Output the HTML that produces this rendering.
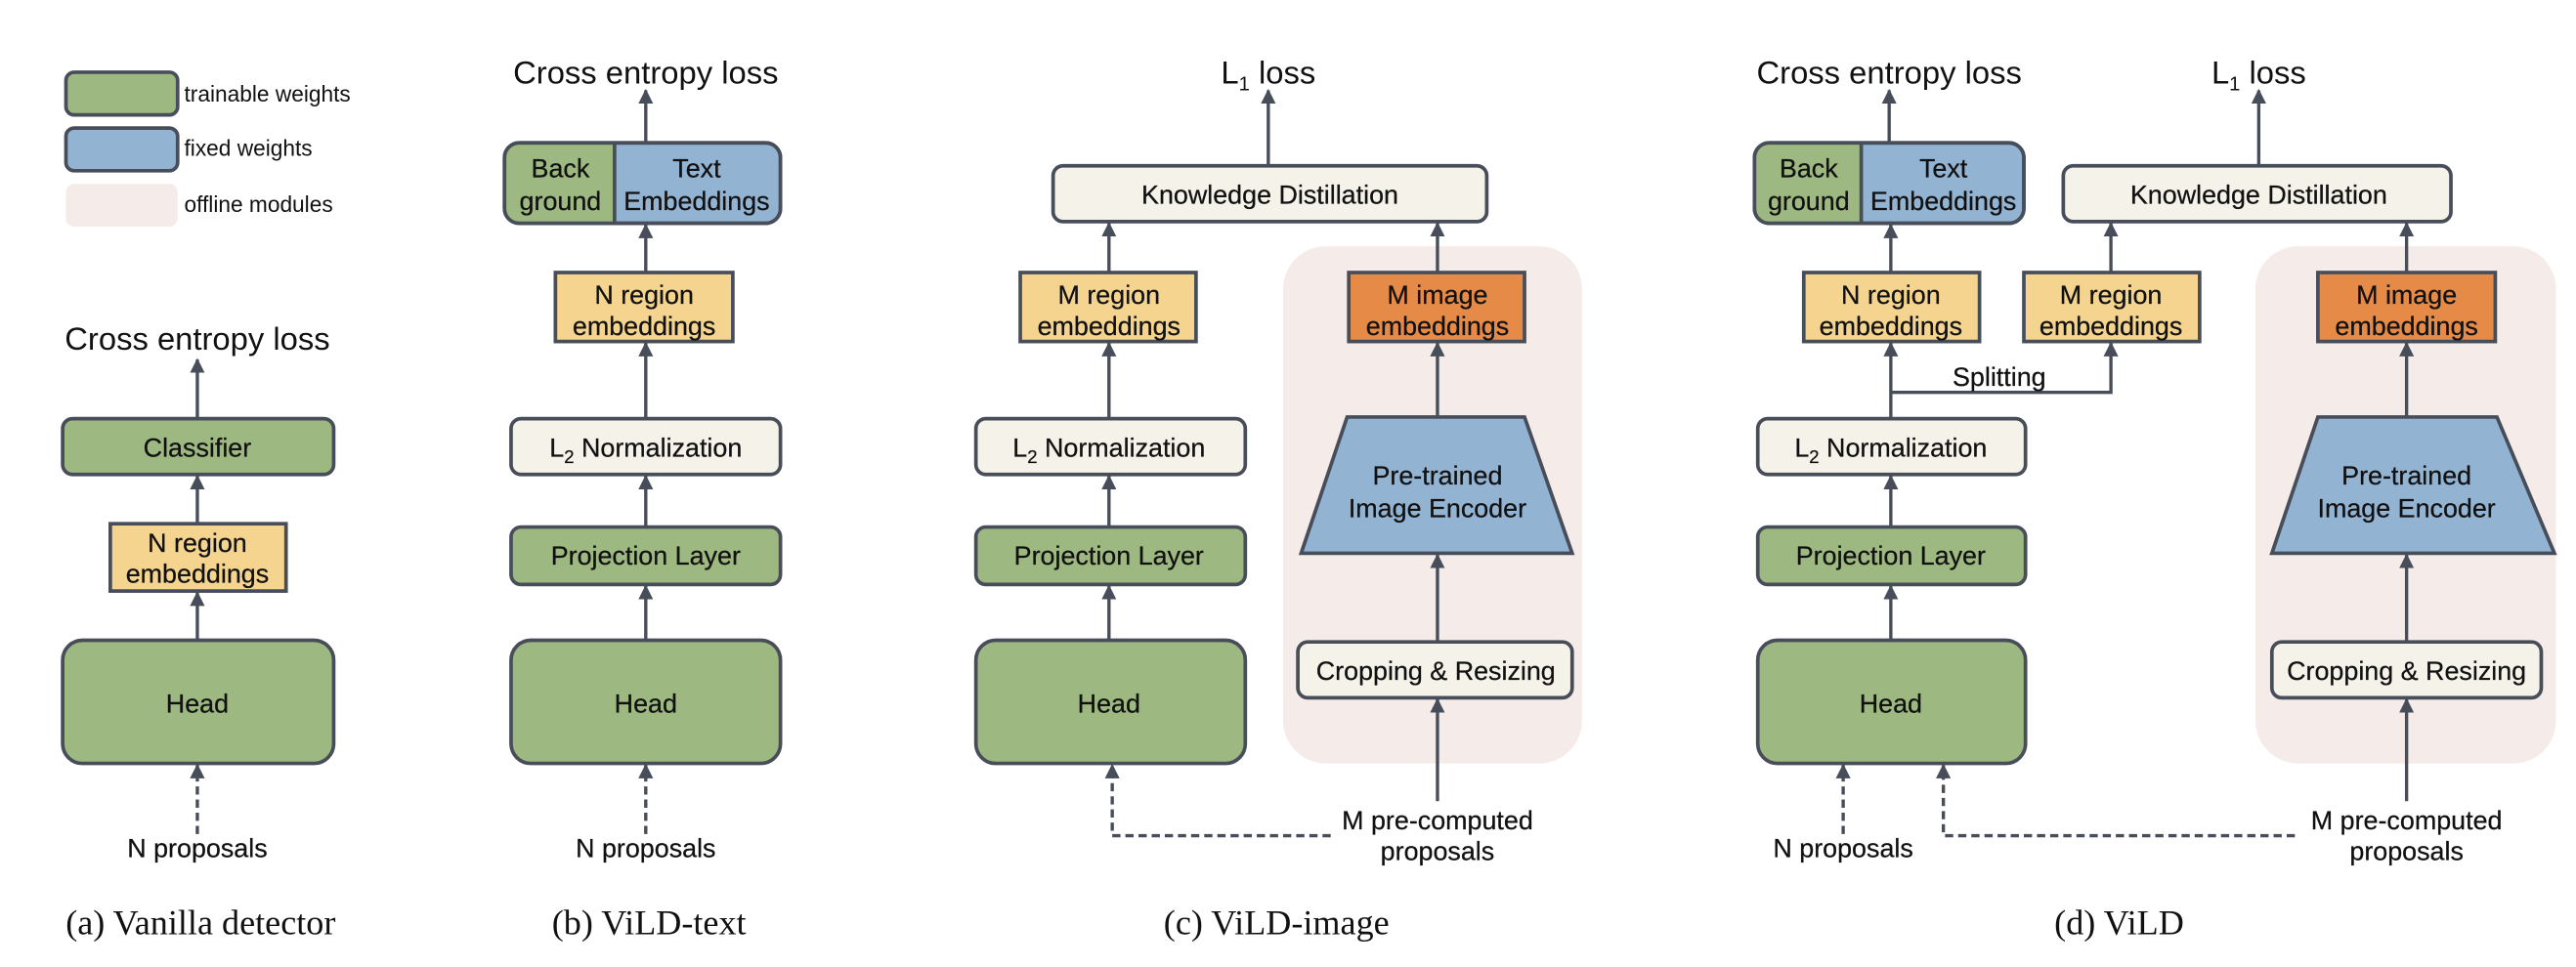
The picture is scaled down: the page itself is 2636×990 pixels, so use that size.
<!DOCTYPE html>
<html><head><meta charset="utf-8"><style>
html,body{margin:0;padding:0;background:#fff;}
svg{display:block;}
text{font-family:"Liberation Sans",Arial,sans-serif;fill:#111;}
.cap{font-family:"Liberation Serif",serif;font-size:21.5px;}
.bx{font-size:16px;stroke:#111;stroke-width:0.15px;}
.big{font-size:19.5px;}
</style></head><body>
<svg width="2636" height="990" viewBox="0 0 1568 589" xmlns="http://www.w3.org/2000/svg">
<defs>
<marker id="ah" viewBox="0 0 10 10" refX="9" refY="5" markerWidth="9" markerHeight="9" markerUnits="userSpaceOnUse" orient="auto">
<path d="M0,0 L10,5 L0,10 z" fill="#474e5a"/></marker>
</defs>
<g stroke="#474e5a" stroke-width="2.2">
<rect x="40" y="44" width="68" height="26" rx="5" fill="#9db880"/>
<rect x="40" y="78" width="68" height="26" rx="5" fill="#93b3d3"/>
<rect x="40" y="112" width="68" height="26" rx="5" fill="#f5ebe8" stroke="none"/>
<rect x="781" y="150" width="182" height="315" rx="26" fill="#f5ebe8" stroke="none"/>
<rect x="1373" y="150" width="183" height="315" rx="26" fill="#f5ebe8" stroke="none"/>
<rect x="38" y="255" width="165" height="34" rx="6" fill="#9db880"/>
<rect x="67" y="319" width="107" height="41" fill="#f4d48e"/>
<rect x="38" y="390" width="165" height="75" rx="12" fill="#9db880"/>
<rect x="307" y="87" width="168" height="49" rx="9" fill="#93b3d3"/>
<path d="M374,88 H316 A8,8 0 0 0 308,96 V127 A8,8 0 0 0 316,135 H374 Z" fill="#9db880" stroke="none"/>
<rect x="307" y="87" width="168" height="49" rx="9" fill="none"/>
<line x1="374" y1="87" x2="374" y2="136"/>
<rect x="338" y="166" width="108" height="42" fill="#f4d48e"/>
<rect x="311" y="255" width="164" height="34" rx="6" fill="#f5f2ea"/>
<rect x="311" y="321" width="164" height="35" rx="6" fill="#9db880"/>
<rect x="311" y="390" width="164" height="75" rx="12" fill="#9db880"/>
<rect x="641" y="101" width="264" height="34" rx="6" fill="#f5f2ea"/>
<rect x="621" y="166" width="107" height="42" fill="#f4d48e"/>
<rect x="594" y="255" width="164" height="34" rx="6" fill="#f5f2ea"/>
<rect x="594" y="321" width="164" height="35" rx="6" fill="#9db880"/>
<rect x="594" y="390" width="164" height="75" rx="12" fill="#9db880"/>
<rect x="821" y="166" width="107" height="42" fill="#e68b47"/>
<polygon points="820,254 928,254 957,337 792,337" fill="#93b3d3"/>
<rect x="790" y="391" width="167" height="34" rx="6" fill="#f5f2ea"/>
<rect x="1068" y="87" width="164" height="49" rx="9" fill="#93b3d3"/>
<path d="M1133,88 H1077 A8,8 0 0 0 1069,96 V127 A8,8 0 0 0 1077,135 H1133 Z" fill="#9db880" stroke="none"/>
<rect x="1068" y="87" width="164" height="49" rx="9" fill="none"/>
<line x1="1133" y1="87" x2="1133" y2="136"/>
<rect x="1256" y="101" width="236" height="34" rx="6" fill="#f5f2ea"/>
<rect x="1098" y="166" width="107" height="42" fill="#f4d48e"/>
<rect x="1232" y="166" width="107" height="42" fill="#f4d48e"/>
<rect x="1070" y="255" width="163" height="34" rx="6" fill="#f5f2ea"/>
<rect x="1070" y="321" width="163" height="35" rx="6" fill="#9db880"/>
<rect x="1070" y="390" width="163" height="75" rx="12" fill="#9db880"/>
<rect x="1411" y="166" width="108" height="42" fill="#e68b47"/>
<polygon points="1411,254 1520,254 1555,337 1383,337" fill="#93b3d3"/>
<rect x="1383" y="391" width="164" height="34" rx="6" fill="#f5f2ea"/>
</g>
<g stroke="#474e5a" stroke-width="2" fill="none" marker-end="url(#ah)">
<line x1="120" y1="255" x2="120" y2="219"/>
<line x1="120" y1="319" x2="120" y2="290"/>
<line x1="120" y1="390" x2="120" y2="361"/>
<line x1="393" y1="87" x2="393" y2="55"/>
<line x1="393" y1="166" x2="393" y2="137"/>
<line x1="393" y1="255" x2="393" y2="209"/>
<line x1="393" y1="321" x2="393" y2="290"/>
<line x1="393" y1="390" x2="393" y2="357"/>
<line x1="772" y1="101" x2="772" y2="55"/>
<line x1="675" y1="166" x2="675" y2="136"/>
<line x1="875" y1="166" x2="875" y2="136"/>
<line x1="675" y1="255" x2="675" y2="209"/>
<line x1="675" y1="321" x2="675" y2="290"/>
<line x1="675" y1="390" x2="675" y2="357"/>
<line x1="875" y1="254" x2="875" y2="209"/>
<line x1="875" y1="391" x2="875" y2="338"/>
<line x1="875" y1="488" x2="875" y2="426"/>
<line x1="1150" y1="87" x2="1150" y2="55"/>
<line x1="1375" y1="101" x2="1375" y2="55"/>
<line x1="1151" y1="166" x2="1151" y2="137"/>
<line x1="1285" y1="166" x2="1285" y2="136"/>
<line x1="1465" y1="166" x2="1465" y2="136"/>
<line x1="1151" y1="255" x2="1151" y2="209"/>
<polyline points="1151,239 1285,239 1285,209"/>
<line x1="1151" y1="321" x2="1151" y2="290"/>
<line x1="1151" y1="390" x2="1151" y2="357"/>
<line x1="1465" y1="254" x2="1465" y2="209"/>
<line x1="1465" y1="391" x2="1465" y2="338"/>
<line x1="1465" y1="488" x2="1465" y2="426"/>
</g>
<g stroke="#474e5a" stroke-width="2" fill="none" stroke-dasharray="5,3" marker-end="url(#ah)">
<line x1="120" y1="508" x2="120" y2="466"/>
<line x1="393" y1="508" x2="393" y2="466"/>
<polyline points="810,509 677,509 677,466"/>
<line x1="1122" y1="508" x2="1122" y2="466"/>
<polyline points="1397,509 1183,509 1183,466"/>
</g>
<g font-size="13.5">
<text x="112" y="62">trainable weights</text>
<text x="112" y="95">fixed weights</text>
<text x="112" y="129">offline modules</text>
</g>
<g text-anchor="middle">
<text class="big" x="120" y="213">Cross entropy loss</text>
<text class="bx" x="120" y="278">Classifier</text>
<text class="bx" x="120" y="336">N region</text>
<text class="bx" x="120" y="355">embeddings</text>
<text class="bx" x="120" y="434">Head</text>
<text class="bx" x="120" y="522">N proposals</text>
<text class="cap" x="122" y="569">(a) Vanilla detector</text>

<text class="big" x="393" y="51">Cross entropy loss</text>
<text class="bx" x="341" y="108">Back</text>
<text class="bx" x="341" y="128">ground</text>
<text class="bx" x="424" y="108">Text</text>
<text class="bx" x="424" y="128">Embeddings</text>
<text class="bx" x="392" y="185">N region</text>
<text class="bx" x="392" y="204">embeddings</text>
<text class="bx" x="393" y="278">L<tspan font-size="11" dy="4">2</tspan><tspan dy="-4"> Normalization</tspan></text>
<text class="bx" x="393" y="344">Projection Layer</text>
<text class="bx" x="393" y="434">Head</text>
<text class="bx" x="393" y="522">N proposals</text>
<text class="cap" x="395" y="569">(b) ViLD-text</text>

<text class="big" x="772" y="51">L<tspan font-size="12" dy="4">1</tspan><tspan dy="-4"> loss</tspan></text>
<text class="bx" x="773" y="124">Knowledge Distillation</text>
<text class="bx" x="675" y="185">M region</text>
<text class="bx" x="675" y="204">embeddings</text>
<text class="bx" x="875" y="185">M image</text>
<text class="bx" x="875" y="204">embeddings</text>
<text class="bx" x="675" y="278">L<tspan font-size="11" dy="4">2</tspan><tspan dy="-4"> Normalization</tspan></text>
<text class="bx" x="675" y="344">Projection Layer</text>
<text class="bx" x="675" y="434">Head</text>
<text class="bx" x="875" y="295">Pre-trained</text>
<text class="bx" x="875" y="315">Image Encoder</text>
<text class="bx" x="874" y="414">Cropping &amp; Resizing</text>
<text class="bx" x="875" y="505">M pre-computed</text>
<text class="bx" x="875" y="524">proposals</text>
<text class="cap" x="777" y="569">(c) ViLD-image</text>

<text class="big" x="1150" y="51">Cross entropy loss</text>
<text class="big" x="1375" y="51">L<tspan font-size="12" dy="4">1</tspan><tspan dy="-4"> loss</tspan></text>
<text class="bx" x="1101" y="108">Back</text>
<text class="bx" x="1101" y="128">ground</text>
<text class="bx" x="1183" y="108">Text</text>
<text class="bx" x="1183" y="128">Embeddings</text>
<text class="bx" x="1375" y="124">Knowledge Distillation</text>
<text class="bx" x="1151" y="185">N region</text>
<text class="bx" x="1151" y="204">embeddings</text>
<text class="bx" x="1285" y="185">M region</text>
<text class="bx" x="1285" y="204">embeddings</text>
<text class="bx" x="1465" y="185">M image</text>
<text class="bx" x="1465" y="204">embeddings</text>
<text class="bx" x="1217" y="235">Splitting</text>
<text class="bx" x="1151" y="278">L<tspan font-size="11" dy="4">2</tspan><tspan dy="-4"> Normalization</tspan></text>
<text class="bx" x="1151" y="344">Projection Layer</text>
<text class="bx" x="1151" y="434">Head</text>
<text class="bx" x="1465" y="295">Pre-trained</text>
<text class="bx" x="1465" y="315">Image Encoder</text>
<text class="bx" x="1465" y="414">Cropping &amp; Resizing</text>
<text class="bx" x="1122" y="522">N proposals</text>
<text class="bx" x="1465" y="505">M pre-computed</text>
<text class="bx" x="1465" y="524">proposals</text>
<text class="cap" x="1290" y="569">(d) ViLD</text>
</g>
</svg>
</body></html>
